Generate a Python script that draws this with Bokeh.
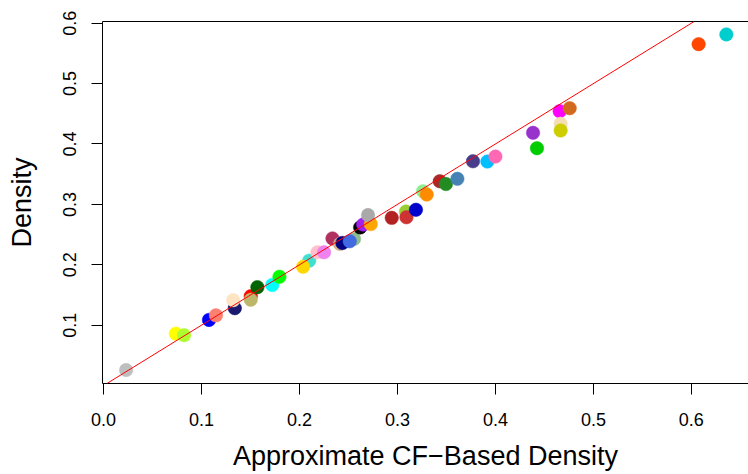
from bokeh.plotting import figure
from bokeh.models import Range1d, FixedTicker, LinearAxis, Slope, PrintfTickFormatter, ColumnDataSource
from bokeh.embed import file_html
from bokeh.resources import INLINE

# Data (approximate CF-based density vs density), in drawing order
approx_density = [0.0231, 0.0738, 0.0822, 0.1077, 0.1148, 0.1340, 0.1324, 0.1503, 0.1503,
                  0.1571, 0.1722, 0.1796, 0.2100, 0.2037, 0.2184, 0.2251, 0.2337, 0.2414,
                  0.2439, 0.2557, 0.2513, 0.2620, 0.2651, 0.2728, 0.2700, 0.2942, 0.3088,
                  0.3092, 0.3189, 0.3261, 0.3299, 0.3432, 0.3495, 0.3612, 0.3771, 0.3918,
                  0.4000, 0.4384, 0.4424, 0.4656, 0.4758, 0.4666, 0.4666, 0.6074, 0.6357]
density = [0.0258, 0.0860, 0.0835, 0.1088, 0.1163, 0.1282, 0.1415, 0.1481, 0.1423,
           0.1630, 0.1667, 0.1801, 0.2069, 0.1967, 0.2207, 0.2207, 0.2437, 0.2346,
           0.2362, 0.2429, 0.2389, 0.2619, 0.2666, 0.2674, 0.2823, 0.2777, 0.2881,
           0.2787, 0.2911, 0.3217, 0.3163, 0.3383, 0.3337, 0.3423, 0.3714, 0.3709,
           0.3792, 0.4185, 0.3930, 0.4543, 0.4592, 0.4334, 0.4223, 0.5653, 0.5814]
point_colors = ["#BEBEBE", "#FFFF00", "#ADFF2F", "#0000FF", "#FA8072", "#191970", "#FFE4C4",
                "#FF0000", "#BDB76B", "#006400", "#00FFFF", "#00FF00", "#40E0D0", "#FFD700",
                "#FFC0CB", "#EE82EE", "#B03060", "#D2B48C", "#000080", "#8FBC8F", "#4169E1",
                "#000000", "#A020F0", "#FFA500", "#A9A9A9", "#B22222", "#9ACD32", "#CD3333",
                "#0000CD", "#90EE90", "#FF8C00", "#A52A2A", "#228B22", "#4682B4", "#483D8B",
                "#00BFFF", "#FF69B4", "#9932CC", "#00CD00", "#FF00FF", "#D2691E", "#F5DEB3",
                "#CDCD00", "#FF4500", "#00CDCD"]

x_ticks = [0.0, 0.1, 0.2, 0.3, 0.4, 0.5, 0.6]
y_ticks = [0.1, 0.2, 0.3, 0.4, 0.5, 0.6]

FONT = "Liberation Sans"

p = figure(width=748, height=474, output_backend="svg", toolbar_location=None,
           x_range=Range1d(-0.001, 0.6583), y_range=Range1d(0.0035, 0.6028),
           min_border_left=102, min_border_right=0, min_border_top=21, min_border_bottom=91)
p.outline_line_color = None
p.grid.visible = False
p.background_fill_color = "white"
p.border_fill_color = "white"

src = ColumnDataSource(dict(x=approx_density, y=density, c=point_colors))
p.scatter("x", "y", source=src, size=13.5, fill_color="c", line_color="c", line_width=0.5)
p.add_layout(Slope(gradient=1, y_intercept=0, line_color="red", line_width=1))

for ax in (p.xaxis[0], p.yaxis[0]):
    ax.minor_tick_line_color = None
    ax.major_tick_out = 11
    ax.major_tick_in = 0
    ax.axis_line_color = "black"
    ax.major_tick_line_color = "black"
    ax.major_label_text_font = FONT
    ax.major_label_text_font_size = "18px"
    ax.major_label_text_color = "black"
    ax.axis_label_text_font = FONT
    ax.axis_label_text_font_size = "27px"
    ax.axis_label_text_font_style = "normal"
    ax.axis_label_text_color = "black"
    ax.formatter = PrintfTickFormatter(format="%.1f")

p.xaxis[0].ticker = FixedTicker(ticks=x_ticks)
p.yaxis[0].ticker = FixedTicker(ticks=y_ticks)
p.xaxis[0].axis_label = "Approximate CF\u2212Based Density"
p.yaxis[0].axis_label = "Density"
p.xaxis[0].major_label_standoff = 18
p.xaxis[0].axis_label_standoff = 12
p.yaxis[0].major_label_orientation = "vertical"
p.yaxis[0].major_label_standoff = 15
p.yaxis[0].axis_label_standoff = 24

top = LinearAxis(ticker=FixedTicker(ticks=[]), axis_line_color="black")
p.add_layout(top, "above")

open("out.html", "w").write(file_html(p, INLINE))
